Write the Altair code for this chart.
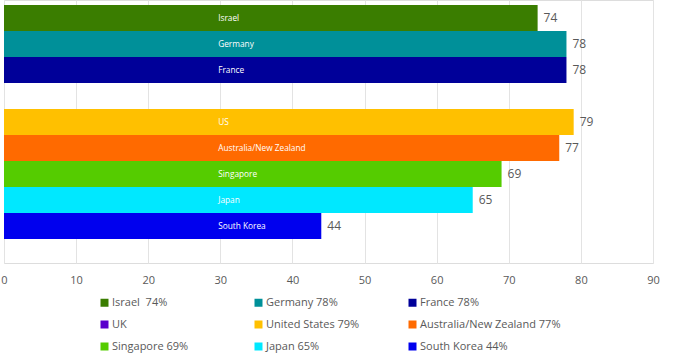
import altair as alt
import pandas as pd

countries = ["Israel", "Germany", "France", "UK", "US",
             "Australia/New Zealand", "Singapore", "Japan", "South Korea"]
values = [74, 78, 78, None, 79, 77, 69, 65, 44]
legend_labels = ["Israel\u00a0 74%", "Germany 78%", "France 78%", "UK",
                 "United States 79%", "Australia/New Zealand 77%",
                 "Singapore 69%", "Japan 65%", "South Korea 44%"]
colors = ["#3a7d00", "#009099", "#000099", "#5a00cc", "#ffc000",
          "#ff6a00", "#55cc00", "#00e8ff", "#0000ee"]
x_ticks = [0, 10, 20, 30, 40, 50, 60, 70, 80, 90]
inside_label_x = 29.7

df = pd.DataFrame({"country": countries, "value": values, "legend": legend_labels})

y_enc = alt.Y("country:N", sort=countries, axis=None,
              scale=alt.Scale(domain=countries, paddingInner=0,
                              paddingOuter=0.558, align=0.17))
x_scale = alt.Scale(domain=[0, 90], nice=False, zero=True)

bars = alt.Chart(df).mark_bar(size=26).encode(
    x=alt.X("value:Q", scale=x_scale,
            axis=alt.Axis(values=x_ticks, title=None, ticks=False, domain=False,
                          grid=True, gridColor="#e3e3e3", labelColor="#595959",
                          labelFontSize=11, labelFont="Open Sans", labelPadding=11,
                          labelFlush=False)),
    y=y_enc,
    color=alt.Color("legend:N",
                    scale=alt.Scale(domain=legend_labels, range=colors),
                    legend=alt.Legend(title=None, orient="none", legendX=95, legendY=297,
                                      columns=3, direction="horizontal",
                                      gridAlign="all", symbolType="square",
                                      symbolSize=64, symbolStrokeWidth=0,
                                      symbolOffset=0, labelOffset=2,
                                      labelFont="Open Sans", labelFontSize=11,
                                      labelColor="#595959", rowPadding=10,
                                      columnPadding=0, labelLimit=300)),
)

valid = df[df["value"].notna()]

end_labels = alt.Chart(valid).mark_text(align="left", baseline="middle", dx=6,
                                         fontSize=12, font="Open Sans",
                                         color="#595959").encode(
    x=alt.X("value:Q", scale=x_scale),
    y=y_enc,
    text=alt.Text("value:Q", format="d"),
)

inside_labels = alt.Chart(valid).mark_text(align="left", baseline="middle", dy=1,
                                            fontSize=8.3, font="Open Sans",
                                            color="white").encode(
    x=alt.datum(inside_label_x, scale=x_scale),
    y=y_enc,
    text="country:N",
)

chart = alt.layer(bars, end_labels, inside_labels).properties(
    width=649, height=263,
    autosize=alt.AutoSizeParams(type="none"),
    padding={"left": 4, "top": 0, "right": 27, "bottom": 93},
).configure_view(stroke=None).configure(background="white")

chart.save("out.html", embed_options={"renderer": "svg", "actions": False})
